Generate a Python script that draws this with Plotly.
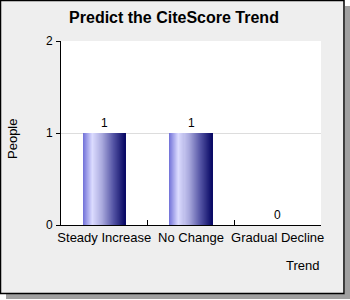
import plotly.graph_objects as go

categories = ["Steady Increase", "No Change", "Gradual Decline"]
people = [1, 1, 0]
y_ticks = [0, 1, 2]
title_text = "Predict the CiteScore Trend"
x_title = "Trend"
y_title = "People"

W, H = 350, 300
L, R, T, B = 61, 321, 41, 225  # plot area in pixels
FONT = "Liberation Sans, Arial"
FS = 13


def px_x(p):
    return (p - L) / (R - L)


def px_y(p):
    return (B - p) / (B - T)


# gradient colour stops across bar width (fraction, rgb)
stops = [(0.0, (112, 112, 216)), (0.22, (220, 220, 255)), (0.45, (170, 170, 222)),
         (0.72, (85, 85, 165)), (1.0, (8, 8, 100))]


def grad(f):
    for (f0, c0), (f1, c1) in zip(stops[:-1], stops[1:]):
        if f0 <= f <= f1:
            t = (f - f0) / (f1 - f0)
            c = [round(a + (b - a) * t) for a, b in zip(c0, c1)]
            return "rgb(%d,%d,%d)" % tuple(c)
    return "rgb(%d,%d,%d)" % stops[-1][1]


bar_w = 0.485
N = 42
sw = bar_w / N
fig = go.Figure()
for i in range(N):
    fig.add_trace(go.Bar(
        x=categories, y=people, width=[sw * 1.6] * len(categories),
        offset=[-bar_w / 2 + i * sw] * len(categories),
        marker=dict(color=grad((i + 0.5) / N), line=dict(width=0)),
        hoverinfo="skip", showlegend=False,
    ))

for c, v in zip(categories, people):
    fig.add_annotation(x=c, y=v, text=str(v), showarrow=False, yanchor="bottom",
                       yshift=1, font=dict(family=FONT, size=FS - 1, color="#000"))

shapes = [
    # shadow
    dict(type="rect", xref="paper", yref="paper", x0=px_x(345), x1=px_x(350),
         y0=px_y(299), y1=px_y(6), fillcolor="#a0a0a0", line=dict(width=0), layer="below"),
    dict(type="rect", xref="paper", yref="paper", x0=px_x(6), x1=px_x(350),
         y0=px_y(299), y1=px_y(294), fillcolor="#a0a0a0", line=dict(width=0), layer="below"),
    # frame
    dict(type="rect", xref="paper", yref="paper", x0=px_x(0.5), x1=px_x(344),
         y0=px_y(293.5), y1=px_y(0.5), fillcolor="#eeeeee",
         line=dict(color="#000", width=1.5), layer="below"),
    # plot area
    dict(type="rect", xref="paper", yref="paper", x0=0, x1=1, y0=0, y1=1,
         fillcolor="#ffffff", line=dict(width=0), layer="below"),
]

fig.update_layout(
    width=W, height=H,
    margin=dict(l=L, r=W - R, t=T, b=H - B, autoexpand=False),
    paper_bgcolor="#ffffff", plot_bgcolor="rgba(0,0,0,0)",
    barmode="overlay", bargap=0,
    shapes=shapes,
    title=dict(text="<b>" + title_text + "</b>", x=174 / W, xref="container", xanchor="center",
               y=1 - 17 / H, yanchor="middle",
               font=dict(family=FONT, size=16, color="#000")),
    font=dict(family=FONT, size=FS, color="#000"),
    xaxis=dict(type="category", showline=True, linecolor="#000", linewidth=1,
               ticks="inside", tickson="boundaries", ticklen=5, tickcolor="#000",
               showgrid=False, tickfont=dict(family=FONT, size=FS), tickangle=0,
               automargin=False, fixedrange=True),
    yaxis=dict(range=[0, 2], tickvals=y_ticks, showline=True, linecolor="#000",
               linewidth=1, ticks="outside", ticklen=4, tickcolor="#000",
               showgrid=True, gridcolor="#dddddd", zeroline=False,
               tickfont=dict(family=FONT, size=FS - 1), ticklabelstandoff=1,
               automargin=False, fixedrange=True),
    annotations=list(fig.layout.annotations) + [
        dict(text=x_title, xref="paper", yref="paper", x=px_x(321), y=px_y(265),
             xanchor="right", yanchor="middle", showarrow=False,
             font=dict(family=FONT, size=FS)),
        dict(text=y_title, xref="paper", yref="paper", x=px_x(12), y=px_y(139),
             xanchor="center", yanchor="middle", showarrow=False, textangle=-90,
             font=dict(family=FONT, size=FS)),
    ],
)

fig.write_html("out.html", config={"displayModeBar": False})
